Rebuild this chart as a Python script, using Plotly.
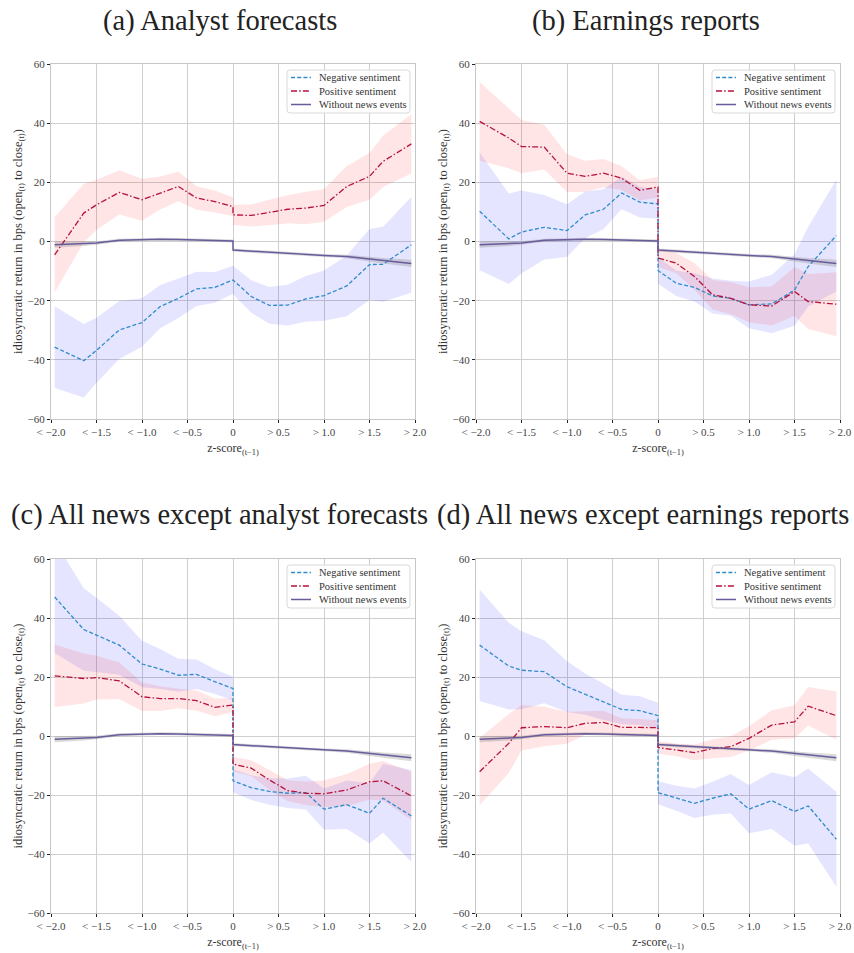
import plotly.graph_objects as go

# z-score bin positions (left of zero, then right of zero; 0 appears twice for the jump)
z_left = [-1.96, -1.64, -1.5, -1.25, -1.0, -0.8, -0.6, -0.4, -0.2, 0.0]
z_right = [0.0, 0.2, 0.4, 0.6, 0.8, 1.0, 1.25, 1.5, 1.65, 1.96]
z_pos = z_left + z_right

tick_vals = [-2.0, -1.5, -1.0, -0.5, 0.0, 0.5, 1.0, 1.5, 2.0]
tick_text = ["< \u22122.0", "< \u22121.5", "< \u22121.0", "< \u22120.5", "0",
             "> 0.5", "> 1.0", "> 1.5", "> 2.0"]
y_vals = [-60, -40, -20, 0, 20, 40, 60]
y_text = ["\u221260", "\u221240", "\u221220", "0", "20", "40", "60"]

panel_titles = ["(a) Analyst forecasts", "(b) Earnings reports",
                "(c) All news except analyst forecasts",
                "(d) All news except earnings reports"]
series_names = ["Negative sentiment", "Positive sentiment", "Without news events"]

# days without news events (same baseline in every panel)
base_mean = [-1.1, -0.8, -0.5, 0.4, 0.7, 0.8, 0.7, 0.6, 0.4, 0.2,
             -2.9, -3.3, -3.7, -4.1, -4.4, -4.7, -5.1, -6.0, -6.5, -7.4]
base_ci = [1.0, 0.7, 0.6, 0.5, 0.5, 0.5, 0.5, 0.5, 0.5, 0.5,
           0.5, 0.5, 0.5, 0.5, 0.5, 0.5, 0.6, 0.8, 0.9, 1.2]

# (a) analyst forecasts
a_neg = [-35.7, -40.3, -36.8, -29.9, -27.4, -22.0, -19.2, -16.0, -15.5, -13.0,
         -13.0, -18.6, -21.6, -21.5, -19.4, -18.3, -15.0, -7.8, -7.7, -1.1]
a_neg_ci = [13.8, 12.4, 11.0, 9.8, 8.2, 7.3, 6.7, 5.8, 5.2, 4.7,
            4.8, 5.5, 6.2, 6.9, 7.7, 8.5, 10.3, 12.0, 12.7, 16.2]
a_pos = [-4.5, 9.6, 12.4, 16.6, 14.1, 16.4, 18.6, 14.7, 13.5, 11.8,
         9.0, 8.8, 9.8, 10.9, 11.3, 12.2, 18.6, 22.0, 27.1, 33.0]
a_pos_ci = [12.7, 9.9, 8.5, 7.5, 7.1, 5.6, 5.0, 4.0, 3.7, 3.2,
            3.4, 3.7, 4.3, 4.7, 5.5, 5.5, 6.9, 7.9, 8.7, 10.0]

# (b) earnings reports
b_neg = [10.2, 0.9, 3.2, 4.8, 3.7, 9.0, 10.9, 16.4, 13.3, 12.7,
         -9.8, -14.1, -15.5, -18.4, -19.2, -21.4, -21.1, -16.4, -8.5, 2.0]
b_neg_ci = [19.9, 15.3, 14.0, 10.9, 8.9, 7.9, 6.8, 5.5, 5.2, 5.0,
            4.5, 4.3, 4.8, 5.9, 5.9, 7.9, 9.9, 12.1, 13.5, 18.9]
b_pos = [40.6, 35.0, 32.1, 31.9, 23.1, 22.0, 23.1, 21.4, 17.3, 18.4,
         -5.6, -7.3, -11.8, -18.0, -19.2, -21.4, -21.8, -16.9, -20.3, -21.2]
b_pos_ci = [13.3, 10.2, 9.0, 7.6, 6.4, 5.3, 4.8, 4.0, 3.4, 3.5,
            2.9, 3.4, 4.5, 5.0, 5.4, 5.9, 6.6, 8.3, 9.3, 10.8]

# (c) all news except analyst forecasts
c_neg = [47.1, 36.1, 34.2, 30.8, 24.4, 22.7, 20.6, 20.9, 18.4, 16.1,
         -15.2, -17.5, -18.8, -19.4, -19.2, -24.8, -23.3, -26.2, -21.1, -27.1]
c_neg_ci = [19.0, 14.0, 12.7, 10.0, 7.9, 6.8, 5.6, 5.0, 4.2, 4.0,
            3.9, 4.2, 4.5, 5.0, 5.7, 7.0, 8.2, 10.2, 11.7, 15.6]
c_pos = [20.4, 19.5, 19.8, 18.7, 13.3, 12.7, 12.7, 12.0, 9.7, 10.5,
         -9.5, -10.9, -14.9, -18.5, -19.4, -19.6, -18.3, -15.5, -15.2, -20.3]
c_pos_ci = [10.6, 8.5, 7.4, 6.2, 4.8, 4.2, 3.3, 3.4, 3.0, 2.4,
            2.5, 2.7, 3.4, 3.5, 4.0, 4.5, 5.4, 6.1, 6.7, 8.2]

# (d) all news except earnings reports
d_neg = [30.8, 23.7, 22.3, 21.8, 16.7, 14.2, 11.6, 9.0, 8.6, 6.9,
         -19.2, -21.1, -22.8, -21.1, -19.6, -24.8, -21.9, -25.6, -23.7, -35.0]
d_neg_ci = [18.9, 14.7, 13.2, 10.7, 8.6, 7.0, 6.2, 5.0, 4.9, 4.4,
            3.9, 4.2, 5.0, 5.6, 6.7, 8.2, 9.6, 11.6, 12.7, 16.1]
d_pos = [-12.1, -2.5, 2.8, 3.2, 2.8, 4.3, 4.6, 2.9, 2.9, 2.8,
         -3.9, -4.7, -5.6, -4.3, -3.6, -0.8, 3.7, 4.8, 10.1, 6.9]
d_pos_ci = [11.4, 10.0, 7.7, 6.7, 5.4, 4.0, 4.0, 3.1, 2.9, 2.5,
            2.1, 2.2, 2.6, 3.2, 3.5, 4.1, 5.0, 5.6, 6.5, 8.2]

panels = [(a_neg, a_neg_ci, a_pos, a_pos_ci),
          (b_neg, b_neg_ci, b_pos, b_pos_ci),
          (c_neg, c_neg_ci, c_pos, c_pos_ci),
          (d_neg, d_neg_ci, d_pos, d_pos_ci)]

W, H = 854, 953
SERIF = "Liberation Serif"
NEG_LINE = dict(color="#2f8ccb", width=1.3, dash="4px,2.2px")
POS_LINE = dict(color="#b5113b", width=1.3, dash="6px,2.2px,1.5px,2.2px")
BASE_LINE = dict(color="#6a5b9c", width=1.5)
LINE_STYLES = [NEG_LINE, POS_LINE, BASE_LINE]

# plot-area boxes in pixels: (left, right, top, bottom)
boxes = [(51, 415, 64, 419), (476, 840, 64, 419),
         (51, 415, 559, 913), (476, 840, 559, 913)]
title_centers = [(220, 21), (646, 21), (219, 515), (643, 515)]


def px(x):
    return x / W


def py(y):
    return 1 - y / H


def band(x, mean, ci, fill, xa, ya):
    upper = [m + c for m, c in zip(mean, ci)]
    lower = [m - c for m, c in zip(mean, ci)]
    return go.Scatter(x=x + x[::-1], y=upper + lower[::-1], fill="toself",
                      fillcolor=fill, line=dict(width=0), mode="lines",
                      hoverinfo="skip", showlegend=False, xaxis=xa, yaxis=ya)


def rounded_box(x0, y0, x1, y1, r):
    # rounded rectangle path in paper coordinates (pixel radius r)
    rx, ry = r / W, r / H
    X0, X1 = px(x0), px(x1)
    Y0, Y1 = py(y0), py(y1)  # Y0 is top
    return (f"M {X0 + rx},{Y0} L {X1 - rx},{Y0} Q {X1},{Y0} {X1},{Y0 - ry} "
            f"L {X1},{Y1 + ry} Q {X1},{Y1} {X1 - rx},{Y1} "
            f"L {X0 + rx},{Y1} Q {X0},{Y1} {X0},{Y1 + ry} "
            f"L {X0},{Y0 - ry} Q {X0},{Y0} {X0 + rx},{Y0} Z")


fig = go.Figure()
layout = {}
shapes = []
annotations = []
for i, (neg, neg_ci, pos, pos_ci) in enumerate(panels):
    n = "" if i == 0 else str(i + 1)
    xa, ya = "x" + n, "y" + n
    fig.add_trace(band(z_pos, neg, neg_ci, "rgba(0,0,255,0.10)", xa, ya))
    fig.add_trace(band(z_pos, pos, pos_ci, "rgba(255,0,0,0.10)", xa, ya))
    fig.add_trace(band(z_pos, base_mean, base_ci, "rgba(128,128,128,0.30)", xa, ya))
    for name, yv, style in zip(series_names, [neg, pos, base_mean], LINE_STYLES):
        fig.add_trace(go.Scatter(x=z_pos, y=yv, mode="lines", name=name, line=style,
                                 xaxis=xa, yaxis=ya, showlegend=False))

    l, r, t, b = boxes[i]
    common = dict(showgrid=True, gridcolor="#cfcfcf", gridwidth=1.2, zeroline=False,
                  showline=True, linecolor="#c6c6c6", linewidth=1.2, mirror=True,
                  ticks="outside", ticklen=3, tickwidth=1, tickcolor="#222222",
                  tickfont=dict(family=SERIF, size=11, color="#444444"),
                  fixedrange=True, automargin=False)
    layout["xaxis" + n] = dict(common, domain=[px(l), px(r)], anchor=ya,
                               range=[-2, 2], tickvals=tick_vals, ticktext=tick_text,
                               title=dict(text="z-score<sub>(t\u22121)</sub>",
                                          font=dict(family=SERIF, size=12, color="#333333"),
                                          standoff=6))
    layout["yaxis" + n] = dict(common, domain=[py(b), py(t)], anchor=xa,
                               range=[-60, 60], tickvals=y_vals, ticktext=y_text,
                               title=dict(text="idiosyncratic return in bps "
                                               "(open<sub>(t)</sub> to close<sub>(t)</sub>)",
                                          font=dict(family=SERIF, size=12.5, color="#333333"),
                                          standoff=2))

    # legend box in the upper-right corner of the panel
    lx1, ly0 = r - 5, t + 6
    lx0, ly1 = lx1 - 123, ly0 + 43
    shapes.append(dict(type="path", xref="paper", yref="paper",
                       path=rounded_box(lx0, ly0, lx1, ly1, 3),
                       fillcolor="rgba(255,255,255,0.85)",
                       line=dict(color="#d8d8d8", width=1)))
    for k, (name, style) in enumerate(zip(series_names, LINE_STYLES)):
        yy = ly0 + 7.5 + k * 13.5
        shapes.append(dict(type="line", xref="paper", yref="paper",
                           x0=px(lx0 + 4), x1=px(lx0 + 24), y0=py(yy), y1=py(yy),
                           line=style))
        annotations.append(dict(text=name, x=px(lx0 + 30), y=py(yy), xref="paper",
                                yref="paper", xanchor="left", yanchor="middle",
                                showarrow=False,
                                font=dict(family=SERIF, size=10.5, color="#333333")))

for (cx, cy), txt in zip(title_centers, panel_titles):
    annotations.append(dict(text=txt, x=px(cx), y=py(cy), xref="paper", yref="paper",
                            xanchor="center", yanchor="middle", showarrow=False,
                            font=dict(family=SERIF, size=28.5, color="#222222")))

fig.update_layout(width=W, height=H, margin=dict(l=0, r=0, t=0, b=0),
                  paper_bgcolor="white", plot_bgcolor="white", showlegend=False,
                  font=dict(family=SERIF, color="#333333"),
                  shapes=shapes, annotations=annotations, **layout)

fig.write_html("out.html")
